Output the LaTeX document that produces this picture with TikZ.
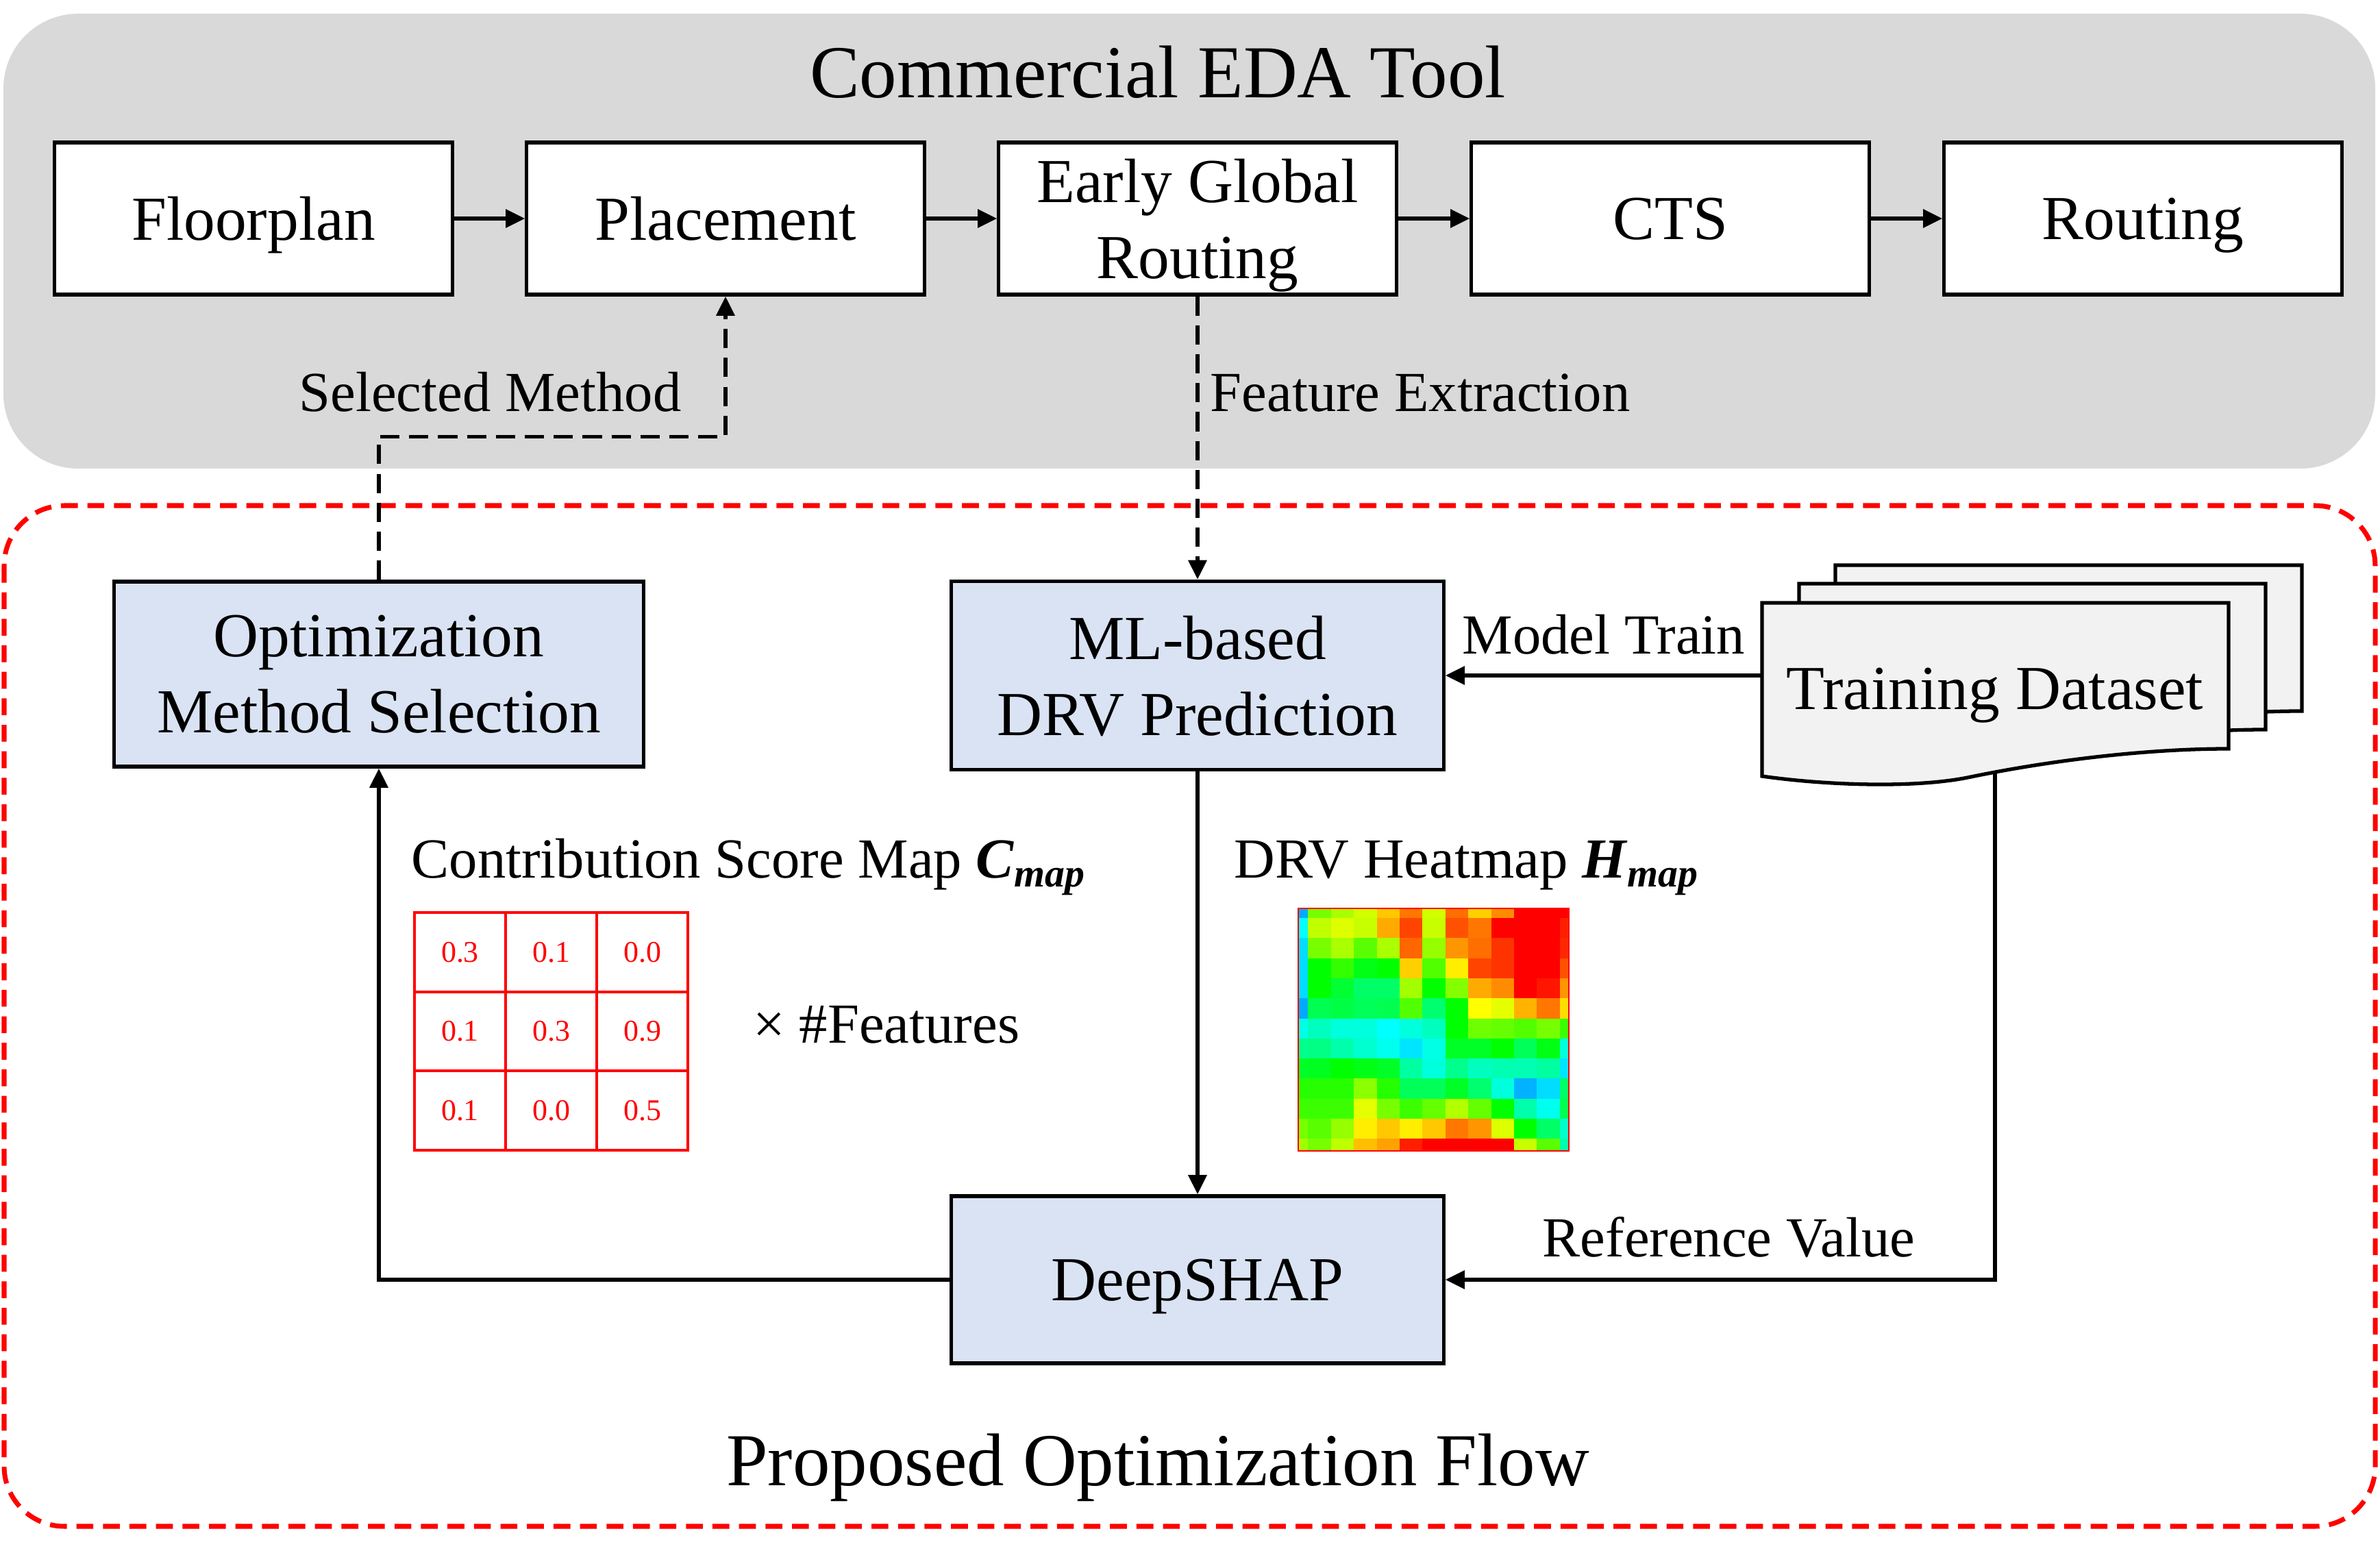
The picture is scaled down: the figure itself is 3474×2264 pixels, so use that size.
\documentclass[tikz,border=0pt]{standalone}
\usepackage{fontspec}
\setmainfont{Liberation Serif}
\usepackage{xcolor}
\definecolor{eda-gray}{HTML}{D9D9D9}
\definecolor{flow-blue}{HTML}{DAE3F3}
\definecolor{data-gray}{HTML}{F2F2F2}
\definecolor{flow-red}{HTML}{FF0000}
\usepackage{tikz}
\usetikzlibrary{arrows.meta}

\tikzset{
    stage/.style={draw, line width=1.5pt, fill=white, minimum width=5.8cm, minimum height=2.22cm, inner sep=0pt, text depth=0pt, align=center, font=\fontsize{26}{31.5}\selectfont},
    module/.style={stage, fill=flow-blue},
    tag/.style={inner sep=0pt, font=\fontsize{23.5}{28}\selectfont},
    flow/.style={line width=1.5pt, -{Triangle[length=8pt,width=7.5pt]}},
    hint/.style={flow, dash pattern=on 8pt off 4pt},
    score/.style={draw=flow-red, line width=1.1pt, text=flow-red, minimum width=1.33cm, minimum height=1.157cm, inner sep=0pt, font=\fontsize{12.5}{15}\selectfont}
}

% one sheet of the dataset stack: left x, top y
\newcommand{\datasheet}[2]{%
    \filldraw[fill=data-gray, line width=1.5pt] (#1,#2) -- (#1+681,#2) -- (#1+681,#2+213)
        .. controls (#1+560,#2+213) and (#1+420,#2+230) .. (#1+300,#2+255)
        .. controls (#1+220,#2+271) and (#1+90,#2+266) .. (#1,#2+253) -- cycle;}

\begin{document}
\begin{tikzpicture}[x=0.01cm, y=-0.01cm]

    \useasboundingbox (0,0) rectangle (3474,2264);

    % Background
    \fill[eda-gray, rounded corners=31pt] (5,20) rectangle (3467,684);
    \draw[flow-red, line width=2pt, dash pattern=on 7pt off 4pt, rounded corners=25pt] (6,738) rectangle (3467,2228);

    \node[anchor=base, font=\fontsize{31}{36}\selectfont] (edatitle) at (1690,143) {Commercial EDA Tool};
    \node[anchor=base, font=\fontsize{31}{36}\selectfont] (flowtitle) at (1690,2168) {Proposed Optimization Flow};

    % EDA stages
    \node[stage] (floorplan) at (370,319) {Floorplan};
    \node[stage] (placement) at (1059,319) {Placement};
    \node[stage] (egr) at (1748,319) {Early Global\\Routing};
    \node[stage] (cts) at (2438,319) {CTS};
    \node[stage] (routing) at (3128,319) {Routing};
    \foreach \a/\b in {floorplan/placement, placement/egr, egr/cts, cts/routing}
        \draw[flow] (\a) -- (\b);

    % Modules
    \node[module, minimum width=7.73cm, minimum height=2.7cm] (optsel) at (553,984) {Optimization\\Method Selection};
    \node[module, minimum width=7.18cm, minimum height=2.75cm] (mlpred) at (1748,986) {ML-based\\DRV Prediction};
    \node[module, minimum width=7.18cm, minimum height=2.44cm] (deepshap) at (1748,1868) {DeepSHAP};

    % Dataset
    \datasheet{2679}{825}
    \datasheet{2626}{852}
    \datasheet{2572}{880}
    \node[inner sep=0pt, minimum width=6.81cm, minimum height=2.4cm, text depth=0pt, font=\fontsize{26}{31.5}\selectfont] (dataset) at (2912,1005) {Training Dataset};

    % Connectors
    \draw[hint] (optsel.north) -- ++(0,-209) -| (placement.south);
    \draw[hint] (egr) -- (mlpred);
    \draw[flow] (dataset.west |- mlpred.east) -- (mlpred.east);
    \draw[flow] (dataset.south) |- (deepshap.east);
    \draw[flow] (mlpred) -- (deepshap);
    \draw[flow] (deepshap.west) -| (optsel.south);

    \node[tag, anchor=base east] (selmethod) at (995,601) {Selected Method};
    \node[tag, anchor=base west] (featext) at (1766,601) {Feature Extraction};
    \node[tag, anchor=base west] (modeltrain) at (2134,955) {Model Train};
    \node[tag, anchor=base west] (refvalue) at (2251,1834) {Reference Value};
    \node[tag, anchor=base west] (cmaplabel) at (600,1281) {Contribution Score Map \textbf{\textit{C}}\textsubscript{\textbf{\textit{map}}}};
    \node[tag, anchor=base west] (hmaplabel) at (1801,1281) {DRV Heatmap \textbf{\textit{H}}\textsubscript{\textbf{\textit{map}}}};
    \node[tag, anchor=base west] (features) at (1099,1522) {× \#Features};

    % Contribution score map
    \foreach \vals [count=\r from 0] in {{0.3,0.1,0.0},{0.1,0.3,0.9},{0.1,0.0,0.5}}
        \foreach \v [count=\c from 0] in \vals
            \node[score] (cell\r\c) at (671.5+133*\c,1389.8+115.7*\r) {\v};

    % DRV heatmap
    \begin{scope}
        \clip (1895,1326) rectangle (2290,1680);
        \foreach \hues [count=\r from 0] in {
            {200,92,80,71,47,28,71,26,49,33,0,0,0},
            {180,75,68,73,40,16,73,19,28,0,0,0,7},
            {188,92,80,99,80,24,85,35,26,12,0,0,9},
            {188,120,108,125,120,49,101,56,16,12,0,0,19},
            {188,120,132,144,144,82,120,89,40,33,0,5,35},
            {200,139,136,141,139,101,146,120,60,66,42,28,52},
            {174,165,172,172,180,172,165,120,94,96,101,92,106},
            {153,151,160,169,176,186,174,129,129,120,141,125,172},
            {129,127,120,125,129,158,172,153,165,162,162,158,186},
            {111,111,111,87,111,141,141,129,146,172,198,188,144},
            {106,106,106,66,92,106,96,78,96,120,160,176,139},
            {92,99,85,56,47,56,47,28,35,68,120,144,167},
            {82,92,75,45,38,7,0,0,0,0,73,99,160}}
            \foreach \h [count=\c from 0] in \hues {
                \definecolor{heat}{Hsb}{\h,1,1}
                \fill[heat] (1876+33.4*\c,1310.7+29.3*\r) rectangle ++(34,30);
            }
    \end{scope}
    \draw[flow-red, line width=0.7pt] (1895,1326) rectangle (2290,1680);

\end{tikzpicture}
\end{document}
